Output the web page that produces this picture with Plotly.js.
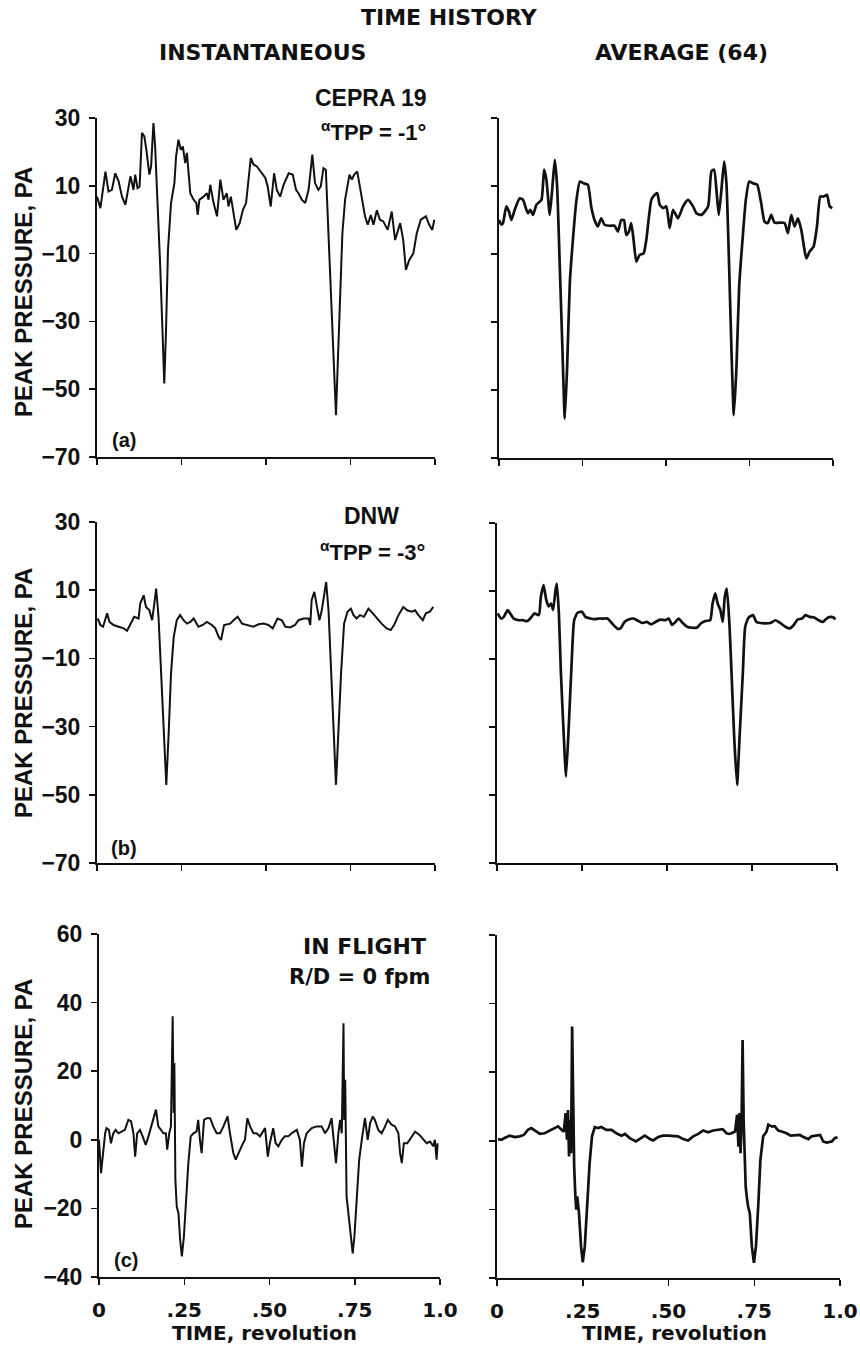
<!DOCTYPE html>
<html>
<head>
<meta charset="utf-8">
<script src="https://cdn.plot.ly/plotly-3.0.1.min.js"></script>
<style>html,body{margin:0;padding:0;background:#fff;}#chart{width:860px;height:1353px;}</style>
</head>
<body>
<div id="chart"></div>
<script>
// ---- Data ----
const xTickVals = [0, 0.25, 0.5, 0.75, 1.0];
const xTickText = ['0', '.25', '.50', '.75', '1.0'];
const yTickValsAB = [30, 10, -10, -30, -50, -70];
const yTickValsC = [60, 40, 20, 0, -20, -40];

// (a) CEPRA 19, instantaneous
const tA_inst = [0.000,0.010,0.025,0.034,0.044,0.054,0.064,0.074,0.084,0.092,0.099,0.108,0.113,0.120,0.126,0.133,0.140,0.146,0.155,0.160,0.167,0.172,0.179,0.187,0.194,0.199,0.204,0.210,0.219,0.229,0.234,0.241,0.248,0.254,0.261,0.266,0.271,0.276,0.286,0.294,0.298,0.303,0.315,0.325,0.330,0.335,0.345,0.355,0.365,0.374,0.384,0.389,0.396,0.404,0.412,0.422,0.432,0.441,0.448,0.455,0.463,0.473,0.488,0.498,0.505,0.514,0.524,0.532,0.542,0.552,0.567,0.579,0.589,0.596,0.606,0.616,0.626,0.637,0.645,0.655,0.662,0.670,0.677,0.685,0.693,0.702,0.707,0.712,0.719,0.726,0.734,0.741,0.747,0.754,0.761,0.770,0.783,0.793,0.801,0.810,0.818,0.828,0.837,0.847,0.860,0.872,0.882,0.897,0.906,0.914,0.924,0.936,0.946,0.958,0.973,0.983,0.992,0.998];
const pA_inst = [6.8,3.4,14.2,8.3,8.8,13.7,11.3,6.8,4.4,8.8,12.8,8.8,13.3,9.3,9.8,25.6,24.6,20.6,13.3,15.7,28.5,21.6,5.9,-13.8,-33.5,-48.3,-33.5,-8.9,4.9,10.8,18.7,23.6,20.6,21.6,16.7,19.7,13.7,7.8,5.9,4.9,1.4,5.9,6.8,7.8,5.9,10.3,4.9,1.0,11.8,5.9,7.8,3.9,6.8,2.0,-3.0,-1.0,3.0,4.9,10.8,18.2,16.3,15.7,13.7,12.3,9.8,3.9,13.7,8.8,6.8,10.3,13.7,13.3,8.8,7.8,5.9,4.9,8.8,19.2,10.8,8.8,9.8,15.2,14.7,-4.0,-23.7,-43.4,-57.7,-43.4,-23.7,-4.0,5.9,9.8,13.3,11.8,13.3,14.2,6.8,1.0,-1.5,1.4,-1.5,2.8,0.0,-0.5,-3.0,2.4,-6.0,-1.0,-6.0,-14.8,-11.9,-9.9,-4.0,0.0,1.0,-1.5,-3.0,0.0];

// (a) CEPRA 19, average (64)
const tA_avg = [0,0.007,0.012,0.022,0.030,0.037,0.047,0.062,0.072,0.082,0.087,0.094,0.102,0.112,0.127,0.135,0.142,0.152,0.160,0.167,0.174,0.182,0.190,0.197,0.204,0.212,0.222,0.232,0.242,0.253,0.266,0.276,0.286,0.296,0.306,0.316,0.331,0.346,0.356,0.366,0.374,0.381,0.389,0.396,0.403,0.411,0.421,0.433,0.441,0.456,0.466,0.474,0.481,0.491,0.501,0.511,0.521,0.536,0.551,0.566,0.581,0.591,0.606,0.626,0.636,0.644,0.651,0.658,0.666,0.674,0.681,0.689,0.696,0.703,0.711,0.719,0.729,0.739,0.749,0.760,0.773,0.785,0.795,0.805,0.815,0.825,0.840,0.855,0.865,0.875,0.885,0.895,0.905,0.913,0.920,0.930,0.942,0.952,0.962,0.972,0.982,0.990,0.998];
const pA_avg = [0.0,-1.4,-0.9,4.0,2.5,0.0,3.0,6.4,5.9,3.0,2.0,3.0,1.5,4.5,5.9,14.8,11.8,1.5,9.9,17.7,9.9,-13.7,-38.3,-58.4,-43.2,-18.6,-4.9,5.9,11.3,10.8,10.4,4.0,0.0,-1.9,0.5,-1.4,-1.7,-1.7,-3.4,0.0,0.0,-4.4,-3.4,-0.9,-5.9,-12.2,-10.3,-9.8,-5.9,5.9,7.4,7.9,4.5,3.5,4.0,-2.4,3.0,0.5,4.0,5.9,4.0,2.0,1.5,4.0,14.3,14.8,8.9,1.5,8.9,17.2,10.8,-13.7,-38.3,-57.4,-43.2,-19.6,-5.9,5.9,11.3,10.8,10.4,4.9,-0.5,-0.9,1.5,-0.8,-0.8,-0.9,-3.9,1.5,-1.9,0.5,-2.9,-7.8,-11.3,-9.3,-7.8,-1.9,6.9,6.9,7.4,4.0,3.5];

// (b) DNW, instantaneous
const tB_inst = [0.002,0.010,0.018,0.025,0.030,0.037,0.049,0.064,0.079,0.089,0.099,0.110,0.123,0.128,0.138,0.145,0.155,0.163,0.167,0.175,0.182,0.189,0.197,0.205,0.212,0.219,0.227,0.236,0.246,0.256,0.266,0.276,0.286,0.300,0.313,0.325,0.340,0.350,0.360,0.367,0.376,0.394,0.404,0.416,0.429,0.448,0.463,0.478,0.493,0.507,0.520,0.534,0.547,0.557,0.571,0.586,0.596,0.611,0.626,0.631,0.635,0.643,0.650,0.658,0.665,0.678,0.685,0.693,0.700,0.707,0.714,0.722,0.731,0.741,0.751,0.759,0.768,0.778,0.790,0.803,0.816,0.828,0.842,0.857,0.869,0.879,0.892,0.906,0.918,0.931,0.941,0.951,0.964,0.973,0.985,0.995];
const pB_inst = [1.7,-0.2,-0.7,1.7,3.2,0.7,-0.2,-0.7,-1.2,-1.9,0.2,2.2,1.7,6.1,8.5,5.1,4.1,1.2,4.1,10.5,2.2,-12.4,-32.0,-47.1,-32.0,-14.4,-3.7,1.2,2.7,1.2,0.2,0.7,1.7,-0.7,-0.2,0.7,-0.2,-1.2,-3.7,-4.6,-0.2,0.2,1.2,2.2,0.2,-0.2,-0.7,0.0,0.2,-0.2,-1.2,1.7,1.2,-0.7,-0.9,-0.2,1.2,1.7,1.7,-0.2,7.1,9.5,5.6,1.2,4.1,12.4,4.1,-15.4,-32.0,-47.1,-32.0,-14.4,0.2,3.7,4.6,2.7,1.7,2.7,2.2,4.6,3.2,1.7,0.2,-1.2,-1.7,-0.2,2.7,5.1,4.1,3.7,4.1,2.7,1.2,3.2,3.7,5.1];

// (b) DNW, average (64)
const tB_avg = [0.002,0.012,0.020,0.031,0.039,0.049,0.064,0.078,0.088,0.098,0.110,0.123,0.129,0.137,0.145,0.152,0.159,0.165,0.172,0.176,0.182,0.188,0.196,0.203,0.211,0.219,0.227,0.237,0.250,0.260,0.275,0.286,0.299,0.314,0.325,0.338,0.353,0.363,0.375,0.387,0.402,0.412,0.426,0.441,0.453,0.466,0.480,0.495,0.505,0.515,0.525,0.534,0.547,0.559,0.574,0.588,0.600,0.613,0.627,0.634,0.642,0.649,0.657,0.664,0.670,0.676,0.684,0.691,0.698,0.706,0.714,0.723,0.730,0.740,0.753,0.763,0.775,0.789,0.804,0.819,0.833,0.848,0.861,0.873,0.884,0.897,0.907,0.920,0.933,0.946,0.959,0.969,0.980,0.990,0.995];
const pB_avg = [3.4,1.9,2.4,4.4,3.4,1.9,1.4,1.4,1.1,1.9,3.4,2.9,8.3,11.7,7.3,5.5,6.3,4.4,10.2,12.2,3.4,-14.2,-31.8,-44.6,-29.9,-12.3,1.4,3.6,3.9,2.4,1.9,1.7,1.9,1.9,1.9,0.5,-1.0,-1.0,0.9,1.6,1.9,1.4,0.6,0.9,0.2,0.9,1.6,1.4,1.9,0.0,0.9,1.9,0.5,-0.5,-0.8,-0.8,0.5,1.2,1.4,6.3,9.3,6.3,4.4,0.9,8.3,10.7,-0.5,-17.1,-33.8,-47.0,-31.8,-14.2,-0.5,2.2,2.9,0.9,0.6,0.5,0.6,1.4,0.6,-0.5,-1.0,0.0,1.6,1.9,2.9,2.4,2.2,1.4,0.9,1.9,2.4,2.2,1.6];

// (c) In flight, instantaneous
const tC_inst = [0,0.003,0.006,0.010,0.013,0.018,0.022,0.029,0.035,0.042,0.049,0.057,0.066,0.076,0.086,0.094,0.101,0.106,0.112,0.120,0.128,0.137,0.145,0.154,0.162,0.167,0.174,0.182,0.189,0.196,0.200,0.206,0.211,0.216,0.219,0.221,0.224,0.228,0.233,0.238,0.243,0.249,0.255,0.262,0.269,0.277,0.286,0.291,0.296,0.301,0.308,0.316,0.326,0.335,0.345,0.355,0.365,0.377,0.384,0.394,0.401,0.409,0.418,0.428,0.435,0.443,0.453,0.462,0.472,0.487,0.495,0.501,0.511,0.518,0.526,0.536,0.545,0.555,0.565,0.580,0.589,0.595,0.601,0.609,0.624,0.638,0.653,0.663,0.673,0.682,0.690,0.695,0.702,0.707,0.712,0.717,0.719,0.722,0.726,0.731,0.738,0.744,0.749,0.756,0.763,0.772,0.780,0.788,0.795,0.803,0.809,0.819,0.829,0.839,0.847,0.858,0.868,0.878,0.883,0.888,0.894,0.904,0.917,0.927,0.939,0.951,0.961,0.971,0.980,0.985,0.990,0.993];
const pC_inst = [0,-4.9,-9.7,-5.8,-1.9,1.9,3.4,2.9,-1.0,1.9,2.9,1.9,2.4,2.9,5.8,5.4,1.9,-4.9,1.9,2.9,1.0,-1.5,1.0,3.9,6.8,8.8,3.9,2.9,1.9,1.9,-2.9,1.9,3.9,36.0,7.8,22.4,-11.7,-19.5,-21.4,-29.2,-34.0,-28.2,-16.5,-6.8,1.0,1.9,2.4,5.8,0.0,-3.9,5.8,6.3,6.3,3.9,1.9,1.9,3.9,6.8,1.9,-3.9,-5.8,-3.9,-1.9,0.0,6.3,3.9,1.9,1.9,1.0,3.4,-4.9,-1.0,3.4,-1.0,-1.9,0.0,1.0,1.0,1.9,2.9,0.0,-7.8,-1.0,1.9,3.4,3.9,3.9,1.9,3.4,6.3,-1.9,-6.8,1.9,5.8,1.9,34.0,5.8,17.5,-16.5,-21.4,-26.3,-33.1,-28.2,-15.6,-5.8,1.0,6.3,0.0,4.9,6.8,5.8,2.9,1.9,3.9,5.8,4.4,3.9,1.9,-3.9,-6.8,-1.0,-1.0,1.0,2.4,1.5,0.0,-1.0,-0.5,-1.9,0.0,-5.8,-1.0];

// (c) In flight, average (64)
const tC_avg = [0.003,0.013,0.022,0.037,0.052,0.066,0.078,0.090,0.100,0.110,0.125,0.139,0.154,0.168,0.178,0.188,0.195,0.200,0.204,0.207,0.210,0.213,0.216,0.219,0.222,0.225,0.228,0.231,0.234,0.239,0.245,0.250,0.256,0.263,0.270,0.277,0.285,0.295,0.304,0.319,0.334,0.348,0.363,0.373,0.387,0.405,0.416,0.431,0.446,0.455,0.470,0.484,0.499,0.514,0.528,0.543,0.557,0.572,0.587,0.601,0.616,0.630,0.645,0.658,0.669,0.677,0.684,0.694,0.700,0.704,0.707,0.710,0.713,0.716,0.719,0.722,0.725,0.728,0.732,0.737,0.743,0.749,0.755,0.762,0.768,0.776,0.786,0.791,0.801,0.810,0.820,0.830,0.844,0.856,0.869,0.883,0.893,0.908,0.917,0.932,0.942,0.951,0.961,0.976,0.985,0.993];
const pC_avg = [0.5,0.3,0.8,1.5,1.1,1.3,1.7,3.2,3.7,3.0,2.0,2.2,3.0,3.7,4.2,3.2,2.7,8.1,0.3,9.0,-4.6,6.1,-3.6,33.3,8.1,-7.5,-15.2,-20.1,-16.2,-21.1,-30.8,-35.4,-30.8,-19.1,-6.5,1.3,4.0,3.7,4.0,3.2,3.2,2.2,1.5,2.0,0.8,-0.2,0.5,1.5,0.5,0.1,1.1,1.5,1.5,1.3,1.3,0.5,0.1,1.3,2.0,3.0,2.5,3.0,3.2,3.4,2.2,2.0,2.2,2.7,7.6,-1.7,8.1,-3.6,5.1,29.4,6.1,-6.5,-13.3,-16.2,-19.1,-21.1,-30.8,-35.6,-30.8,-18.2,-5.5,1.3,2.7,4.7,4.2,4.2,3.0,2.7,2.2,1.5,1.7,1.7,1.1,0.5,1.3,1.5,1.7,-0.2,-0.5,-0.2,0.8,1.0];

// ---- Layout ----
const W = 860, H = 1353;
const fx = p => p / W;
const fy = p => 1 - p / H;
const INK = '#111';

const panels = [
  {t: tA_inst, p: pA_inst, x: [97, 435], y: [118, 457], row: 0, col: 0},
  {t: tA_avg,  p: pA_avg,  x: [499, 833], y: [118, 458], row: 0, col: 1},
  {t: tB_inst, p: pB_inst, x: [97, 435], y: [522, 863], row: 1, col: 0},
  {t: tB_avg,  p: pB_avg,  x: [497, 837], y: [523, 863], row: 1, col: 1},
  {t: tC_inst, p: pC_inst, x: [99, 440], y: [934, 1277], row: 2, col: 0},
  {t: tC_avg,  p: pC_avg,  x: [497, 840], y: [935, 1278], row: 2, col: 1}
];

const baseAxis = {
  showline: true, linecolor: INK, linewidth: 2,
  ticks: 'outside', ticklen: 6, tickwidth: 1.5, tickcolor: INK,
  showgrid: false, zeroline: false, fixedrange: true
};

const layout = {
  width: W, height: H,
  margin: {l: 0, r: 0, t: 0, b: 0},
  paper_bgcolor: '#fff', plot_bgcolor: 'rgba(0,0,0,0)',
  showlegend: false,
  font: {family: 'Liberation Sans, Arial, sans-serif', color: INK},
  annotations: []
};

const traces = [];
panels.forEach((pn, i) => {
  const k = i + 1;
  const xn = k === 1 ? 'xaxis' : 'xaxis' + k;
  const yn = k === 1 ? 'yaxis' : 'yaxis' + k;
  layout[xn] = Object.assign({}, baseAxis, {
    domain: [fx(pn.x[0]), fx(pn.x[1])],
    range: [0, 1],
    anchor: 'y' + (k === 1 ? '' : k),
    tickvals: xTickVals, ticktext: xTickText,
    showticklabels: pn.row === 2,
    ticklabelstandoff: 8,
    tickfont: {family: 'DejaVu Sans, sans-serif', size: 20, weight: 'bold', color: INK}
  });
  layout[yn] = Object.assign({}, baseAxis, {
    domain: [fy(pn.y[1]), fy(pn.y[0])],
    range: pn.row < 2 ? [-70, 30] : [-40, 60],
    anchor: 'x' + (k === 1 ? '' : k),
    tickvals: pn.row < 2 ? yTickValsAB : yTickValsC,
    showticklabels: pn.col === 0,
    ticklabelstandoff: 4,
    tickfont: {family: 'Liberation Sans, Arial, sans-serif', size: 23, weight: 'bold', color: INK}
  });
  const avg = pn.col === 1;
  traces.push({
    x: pn.t, y: pn.p, type: 'scatter', mode: 'lines',
    xaxis: 'x' + (k === 1 ? '' : k), yaxis: 'y' + (k === 1 ? '' : k),
    line: {color: INK, width: avg ? 2.7 : 2.0,
           shape: (avg && pn.row < 2) ? 'spline' : 'linear', smoothing: 0.5},
    hoverinfo: 'skip'
  });
});

function note(text, x, y, opts) {
  layout.annotations.push(Object.assign({
    text: text, xref: 'paper', yref: 'paper', x: fx(x), y: fy(y),
    xanchor: 'center', yanchor: 'middle', showarrow: false,
    font: {family: 'Liberation Sans, Arial, sans-serif', size: 22, weight: 'bold', color: INK}
  }, opts || {}));
}

const dv = (size) => ({family: 'DejaVu Sans, sans-serif', size: size, weight: 'bold', color: INK});
const ls = (size) => ({family: 'Liberation Sans, Arial, sans-serif', size: size, weight: 'bold', color: INK});

// Headings
note('TIME HISTORY', 449, 17, {font: dv(22)});
note('INSTANTANEOUS', 262, 52, {font: dv(22)});
note('AVERAGE (64)', 681, 52, {font: dv(22)});

// Condition labels
note('CEPRA 19', 371, 98, {font: ls(23)});
note('<sup>α</sup>TPP = -1°', 428, 131, {font: ls(22), xanchor: 'right'});
note('DNW', 371, 516, {font: ls(23)});
note('<sup>α</sup>TPP = -3°', 427, 551, {font: ls(22), xanchor: 'right'});
note('IN FLIGHT', 428, 946, {font: dv(22), xanchor: 'right'});
note('R/D = 0 fpm', 432, 977, {font: dv(21), xanchor: 'right'});

// Panel tags
note('(a)', 124, 440, {font: ls(20)});
note('(b)', 124, 848, {font: ls(20)});
note('(c)', 126, 1260, {font: ls(20)});

// Axis titles
[292, 693, 1104].forEach(yc => note('PEAK PRESSURE, PA', 23, yc, {font: ls(24), textangle: -90}));
note('TIME, revolution', 264, 1333, {font: dv(20)});
note('TIME, revolution', 674, 1333, {font: dv(20)});

Plotly.newPlot('chart', traces, layout, {staticPlot: true, displayModeBar: false});
</script>
</body>
</html>
